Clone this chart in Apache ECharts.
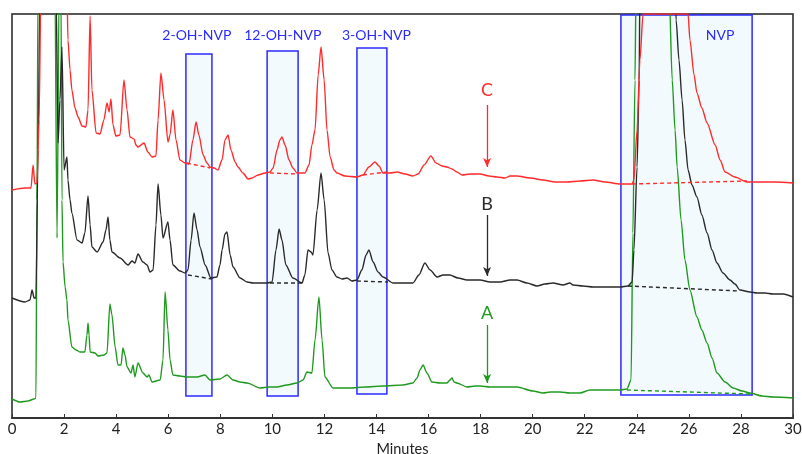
<!DOCTYPE html>
<html>
<head>
<meta charset="utf-8">
<script src="https://cdn.jsdelivr.net/npm/echarts@6/dist/echarts.min.js"></script>
<style>html,body{margin:0;padding:0;background:#fff}#c{width:802px;height:454px}</style>
</head>
<body>
<div id="c"></div>
<script>
// Time (minutes) and detector response (arbitrary units)
var xTicks = [0,2,4,6,8,10,12,14,16,18,20,22,24,26,28,30];
var traceC = [[0,228],[0.50,230],[0.73,230],[0.81,253],[0.88,234],[0.96,235],[1.04,298],[1.11,430],[2.11,430],[2.15,378],[2.23,348],[2.30,328],[2.42,310],[2.54,301],[2.69,292],[2.84,291],[2.92,308],[3.00,402],[3.07,328],[3.23,285],[3.38,284],[3.53,298],[3.65,315],[3.73,306],[3.80,319],[3.88,293],[3.99,282],[4.15,283],[4.30,338],[4.42,308],[4.53,281],[4.69,279],[4.76,273],[4.84,271],[5.07,275],[5.22,266],[5.38,261],[5.53,262],[5.61,298],[5.72,345],[5.84,318],[5.99,276],[6.07,283],[6.18,308],[6.30,278],[6.45,258],[6.65,255],[6.80,254],[6.95,278],[7.07,296],[7.18,283],[7.34,263],[7.49,255],[7.61,251],[7.76,250],[7.91,248],[8.07,258],[8.18,278],[8.30,283],[8.41,268],[8.57,256],[8.68,251],[8.87,245],[9.07,239],[9.22,240],[9.45,243],[9.72,245],[9.91,246],[10.03,250],[10.18,268],[10.29,278],[10.37,281],[10.49,273],[10.64,258],[10.79,250],[10.95,245],[11.25,245],[11.41,253],[11.52,273],[11.64,288],[11.76,343],[11.87,371],[11.99,338],[12.10,288],[12.22,261],[12.37,248],[12.48,245],[12.79,242],[13.25,241],[13.48,243],[13.71,251],[13.94,256],[14.10,252],[14.25,245],[14.52,245],[14.79,246],[15.10,244],[15.40,242],[15.60,244],[15.83,253],[16.09,262],[16.29,255],[16.52,252],[16.71,251],[16.90,249],[17.09,246],[17.29,243],[17.59,244],[17.98,244],[18.32,242],[18.63,241],[18.94,240],[19.13,242],[19.40,242],[19.90,240],[20.40,238],[20.86,236],[21.32,236],[21.82,237],[22.32,238],[22.78,236],[23.36,234],[23.82,234],[23.89,238],[24.01,288],[24.12,358],[24.24,404],[25.97,404],[26.04,378],[26.20,343],[26.31,325],[26.50,310],[26.70,295],[27.01,273],[27.20,258],[27.39,246],[27.77,241],[28.23,236],[28.73,236],[29.31,236],[30.00,235]];
var traceB = [[0,120],[0.50,116],[0.69,118],[0.77,128],[0.85,120],[0.92,120],[1.00,268],[1.08,430],[1.69,430],[1.77,275],[1.84,318],[1.92,371],[2.00,248],[2.11,261],[2.15,238],[2.23,218],[2.30,205],[2.50,178],[2.69,175],[2.80,185],[2.92,222],[3.00,193],[3.07,171],[3.27,166],[3.50,176],[3.61,188],[3.69,201],[3.76,178],[3.84,166],[4.15,160],[4.46,153],[4.61,157],[4.72,155],[4.84,164],[5.03,156],[5.19,153],[5.30,146],[5.42,148],[5.53,193],[5.61,234],[5.72,203],[5.80,180],[5.99,196],[6.07,178],[6.18,153],[6.45,147],[6.65,145],[6.76,148],[6.88,178],[6.99,205],[7.11,188],[7.22,171],[7.42,153],[7.64,140],[7.87,141],[7.99,153],[8.07,168],[8.18,184],[8.26,186],[8.38,163],[8.49,151],[8.76,140],[9.03,136],[9.26,135],[9.80,135],[9.99,136],[10.14,168],[10.26,189],[10.37,178],[10.52,153],[10.79,140],[11.14,135],[11.25,143],[11.37,168],[11.49,166],[11.56,163],[11.72,208],[11.87,245],[11.99,218],[12.14,165],[12.29,148],[12.48,141],[12.68,139],[12.87,140],[13.06,137],[13.25,138],[13.44,148],[13.60,163],[13.71,168],[13.87,156],[14.06,146],[14.25,141],[14.64,135],[15.10,135],[15.40,135],[15.63,143],[15.86,155],[16.06,148],[16.33,141],[16.56,143],[16.82,143],[17.13,140],[17.48,138],[17.98,138],[18.36,136],[18.75,136],[19.13,138],[19.40,138],[19.78,135],[20.17,132],[20.47,134],[20.78,135],[21.17,133],[21.43,135],[21.55,133],[21.93,132],[22.32,131],[22.78,131],[23.36,131],[23.66,132],[23.82,136],[23.89,168],[24.01,251],[24.09,338],[24.12,430],[25.47,430],[25.51,398],[25.62,358],[25.74,318],[25.85,278],[25.97,248],[26.12,233],[26.31,221],[26.50,203],[26.70,185],[26.89,168],[27.08,155],[27.31,145],[27.58,138],[27.77,134],[27.96,128],[28.35,126],[28.62,125],[28.92,125],[29.23,124],[29.62,124],[30.00,121]];
var traceA = [[0,19],[0.31,16],[0.61,17],[0.85,19],[0.92,20],[0.96,218],[1.00,430],[1.65,430],[1.73,180],[1.81,430],[1.88,430],[1.92,218],[1.96,156],[2.04,131],[2.11,118],[2.15,98],[2.30,71],[2.46,68],[2.61,66],[2.80,66],[2.88,83],[2.92,95],[2.96,83],[3.00,66],[3.19,65],[3.30,62],[3.53,63],[3.65,65],[3.76,114],[3.84,103],[3.96,71],[4.07,53],[4.19,53],[4.26,70],[4.34,63],[4.42,51],[4.57,45],[4.65,53],[4.72,41],[4.84,55],[5.03,45],[5.19,41],[5.26,43],[5.38,36],[5.69,38],[5.80,58],[5.88,126],[5.99,88],[6.07,58],[6.18,43],[6.45,42],[6.72,41],[7.11,41],[7.41,43],[7.61,38],[7.99,39],[8.26,43],[8.49,38],[8.76,36],[9.03,35],[9.53,30],[9.87,31],[10.18,31],[10.56,33],[10.95,35],[11.18,38],[11.33,46],[11.52,45],[11.64,78],[11.79,121],[11.91,78],[12.02,41],[12.33,30],[12.98,30],[13.56,31],[14.25,32],[15.02,33],[15.40,35],[15.56,40],[15.67,48],[15.79,53],[15.94,45],[16.13,36],[16.44,35],[16.71,35],[16.82,38],[16.90,40],[16.98,36],[17.09,35],[17.48,31],[17.79,32],[17.98,32],[18.36,31],[18.63,31],[19.40,31],[20.01,27],[20.40,25],[20.67,26],[21.05,26],[21.43,25],[21.82,25],[22.20,28],[22.78,28],[23.36,28],[23.62,29],[23.78,38],[23.85,185],[23.93,338],[23.97,430],[25.24,430],[25.36,338],[25.47,288],[25.55,251],[25.70,198],[25.85,158],[26.04,128],[26.31,101],[26.50,88],[26.70,75],[26.89,60],[27.08,45],[27.39,36],[27.70,30],[28.04,27],[28.35,25],[28.81,22],[29.23,21],[30.00,20]];
// integration baselines [start, end]
var baseC = [[[6.72,255],[7.61,250]],[[9.91,245],[10.99,244]],[[13.48,243],[14.40,246]],[[23.82,234],[28.23,237]]];
var baseB = [[[6.76,143],[7.68,139]],[[9.91,135],[11.14,135]],[[13.25,137],[14.44,136]],[[23.66,132],[27.96,127]]];
var baseA = [[[23.62,28],[28.35,24]]];
// integration windows: name, t0, t1, v0, v1
var windows = [['2-OH-NVP',6.68,7.68,22,364],['12-OH-NVP',9.80,10.99,22,367],['3-OH-NVP',13.25,14.40,24,370],['NVP',23.39,28.43,23,403]];
var traceNames = ['C','B','A'];

var RED = '#ff2b2b', BLK = '#2a2a2a', GRN = '#1f9a1f', BLUE = '#2b2bff';
var FONT = 'Lato';

function baseSeries(list, color){
  return list.map(function(seg){
    return {type:'line', data:seg, symbol:'none', silent:true, z:3,
      lineStyle:{color:color, width:1.4, type:[4,3]}};
  });
}
function trace(data, color){
  return {type:'line', data:data, symbol:'none', z:2, clip:true,
    smooth:0.25, smoothMonotone:'x', lineStyle:{color:color, width:1.4}};
}

var series = [];
series.push({
  type:'line', data:[], z:1, silent:true,
  markArea:{silent:true,
    itemStyle:{color:'rgba(225,243,250,0.4)', borderColor:BLUE, borderWidth:1.5},
    data: windows.map(function(w){ return [{xAxis:w[1], yAxis:w[3]},{xAxis:w[2], yAxis:w[4]}]; })
  },
  markPoint:{silent:true, symbol:'rect', symbolSize:0,
    label:{show:true, color:BLUE, fontSize:14, fontFamily:FONT, formatter:'{b}', position:'inside'},
    data:[
      {name:windows[0][0], coord:[7.1,383]},
      {name:windows[1][0], coord:[10.4,383]},
      {name:windows[2][0], coord:[14.0,383]},
      {name:windows[3][0], coord:[27.2,383]}
    ]}
});
series.push(trace(traceA, GRN));
series.push(trace(traceB, BLK));
series.push(trace(traceC, RED));
series = series.concat(baseSeries(baseC, RED), baseSeries(baseB, BLK), baseSeries(baseA, GRN));

var arrows = [[RED, 313, 251, 328], [BLK, 203, 142, 214], [GRN, 93, 35, 105]];
arrows.forEach(function(a, i){
  series.push({type:'line', data:[], silent:true, z:4,
    markLine:{silent:true, symbol:['none','arrow'], symbolSize:[6,9],
      lineStyle:{color:a[0], width:1.3, type:'solid'}, label:{show:false},
      data:[[{coord:[18.25,a[1]]},{coord:[18.25,a[2]]}]]},
    markPoint:{silent:true, symbol:'rect', symbolSize:0,
      label:{show:true, color:a[0], fontSize:18, fontFamily:FONT, formatter:'{b}', position:'inside'},
      data:[{name:traceNames[i], coord:[18.25,a[3]]}]}
  });
});

var chart = echarts.init(document.getElementById('c'), null, {renderer:'canvas'});
chart.setOption({
  animation:false,
  grid:{left:12, right:9, top:14, bottom:36, containLabel:false, outerBoundsMode:'none',
    show:true, borderColor:'#222', borderWidth:1.5, backgroundColor:'transparent'},
  xAxis:{type:'value', min:0, max:30, interval:2,
    axisLine:{show:true, lineStyle:{color:'#333', width:2}},
    axisTick:{show:true, inside:true, length:4, lineStyle:{color:'#333', width:1}},
    axisLabel:{color:'#222', fontSize:15, fontFamily:FONT, margin:4,
      formatter:function(v){ return xTicks.indexOf(v) >= 0 ? String(v) : ''; }},
    splitLine:{show:false},
    name:'Minutes', nameLocation:'middle', nameGap:22,
    nameTextStyle:{color:'#222', fontSize:14.5, fontFamily:FONT}
  },
  yAxis:{type:'value', min:0, max:404, show:false, splitLine:{show:false}},
  series:series
});
</script>
</body>
</html>
